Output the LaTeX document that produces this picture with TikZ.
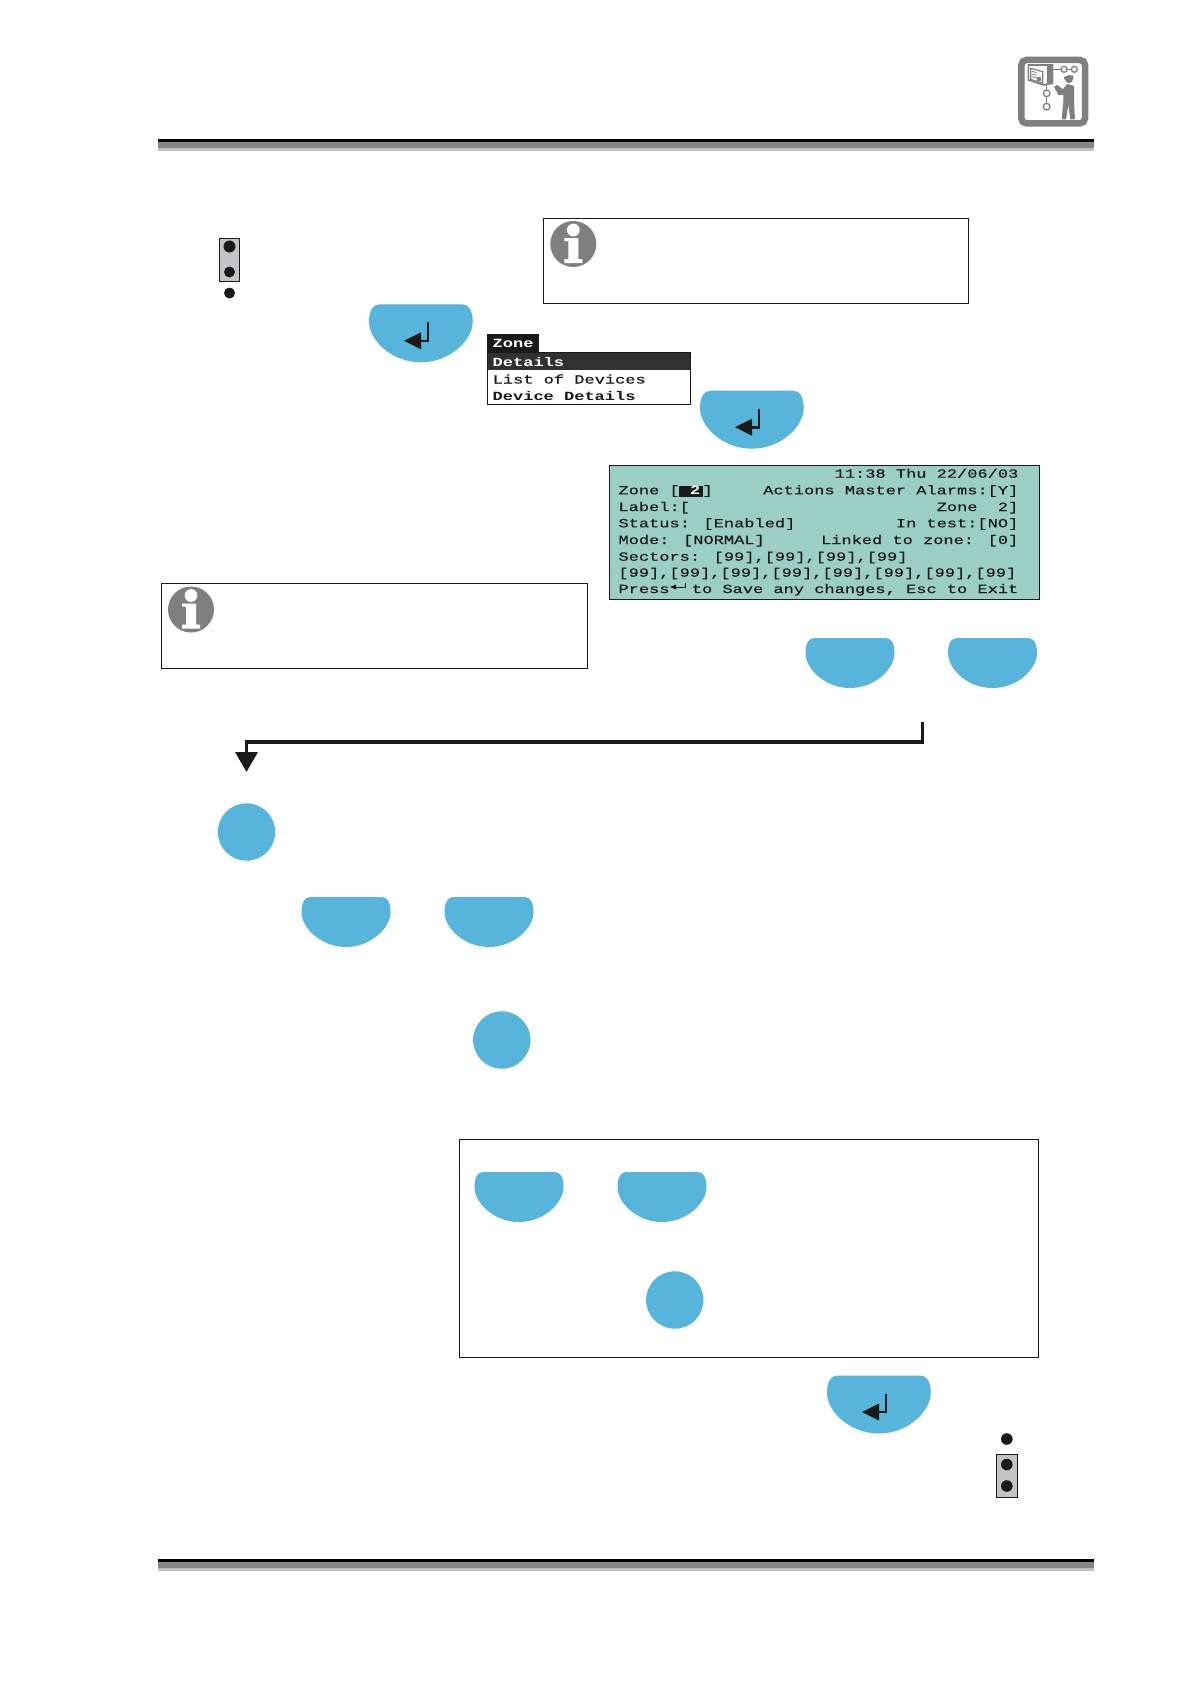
\documentclass[tikz,border=0pt]{standalone}
\usepackage{fontspec}
\usetikzlibrary{arrows.meta}
\newfontfamily\lcdfont[FakeStretch=1.36,FakeBold=0.5]{Liberation Mono}
\newfontfamily\lcdbold[FakeStretch=1.36]{Liberation Mono Bold}
\definecolor{keyblue}{HTML}{57B5DB}
\definecolor{inkblack}{HTML}{1A1A1A}
\definecolor{lcdgreen}{HTML}{9BCFC6}
\definecolor{iconGrey}{HTML}{7F7F7F}
\definecolor{jumpGrey}{HTML}{C2C5C5}
\tikzset{
  x=1pt,y=-1pt,
  keyfill/.style={fill=keyblue},
  framebox/.style={draw=inkblack,line width=0.9pt,fill=white},
  lcdtext/.style={inner sep=0,outer sep=0,text=inkblack,font=\lcdfont\fontsize{12.5}{14}\selectfont},
  lcdleft/.style={lcdtext,anchor=base west},
  lcdright/.style={lcdtext,anchor=base east},
}
\newcommand{\keyshape}[4]{% x y w h
  \fill[keyfill] ({#1+0.1*#3},#2) -- ({#1+0.9*#3},#2)
    .. controls ({#1+0.96*#3},#2) and ({#1+#3},{#2+0.1*#4}) .. ({#1+#3},{#2+0.3*#4})
    .. controls ({#1+#3},{#2+0.62*#4}) and ({#1+0.78*#3},{#2+#4}) .. ({#1+0.5*#3},{#2+#4})
    .. controls ({#1+0.22*#3},{#2+#4}) and (#1,{#2+0.62*#4}) .. (#1,{#2+0.3*#4})
    .. controls (#1,{#2+0.1*#4}) and ({#1+0.04*#3},#2) .. cycle;}
\newcommand{\enterkey}[2]{% x y of top-left, big key
  \keyshape{#1}{#2}{103.7}{58}
  \draw[inkblack,line width=2.6pt] ({#1+59},{#2+18}) -- ({#1+59},{#2+36.5}) -- ({#1+48},{#2+36.5});
  \fill[inkblack] ({#1+35},{#2+36.5}) -- ({#1+52},{#2+28}) -- ({#1+52},{#2+45}) -- cycle;}
\newcommand{\infoicon}[2]{% centre
  \fill[iconGrey] (#1,#2) circle (23);
  \fill[white] (#1,{#2-14}) circle (6.4);
  \fill[white] ({#1-9},{#2-6}) -- ({#1+5},{#2-6}) -- ({#1+5},{#2+15}) -- ({#1+9},{#2+15}) -- ({#1+9},{#2+19})
     -- ({#1-9},{#2+19}) -- ({#1-9},{#2+15}) -- ({#1-5},{#2+15}) -- ({#1-5},{#2-3}) -- ({#1-9},{#2-3}) -- cycle;}
\newcommand{\rulebar}[1]{% top y
  \fill[black] (158,#1) rectangle (1094,{#1+3.4});
  \fill[gray!95] (158,{#1+3.4}) rectangle (1094,{#1+9});
  \fill[gray!50] (158,{#1+9}) rectangle (1094,{#1+12});}
\newcommand{\jumper}[2]{% rectangle top-left
  \draw[inkblack,line width=0.9pt,fill=jumpGrey] (#1,#2) rectangle ({#1+20.5},{#2+43.5});}
\begin{document}
\begin{tikzpicture}
\useasboundingbox[fill=white] (0,0) rectangle (1190,1684);

% header / footer rules
\rulebar{139}
\rulebar{1558.7}

% header icon
\begin{scope}[shift={(980,30)},x=0.3333pt,y=-0.3333pt]
  \draw[iconGrey,line width=6.5pt,rounded corners=5pt,fill=white] (124,90) rectangle (315,280);
  \draw[iconGrey,line width=1.6pt,fill=white] (145,105) -- (218,105) -- (218,160) -- (190,165) -- (145,150) -- cycle;
  \fill[iconGrey] (200,105) rectangle (220,160);
  \draw[iconGrey,line width=1.2pt] (152,115) -- (188,125) -- (188,160) -- (152,148) -- cycle;
  \draw[iconGrey,line width=0.8pt] (156,124) -- (170,128) (156,132) -- (170,136) (156,140) -- (170,144);
  \fill[iconGrey] (172,140) rectangle (184,152);
  \draw[iconGrey,line width=1.6pt] (218,118) -- (292,118);
  \draw[iconGrey,line width=1.3pt,fill=white] (252,118) circle (9) (283,118) circle (9);
  \draw[iconGrey,line width=1.6pt] (200,160) -- (200,232);
  \draw[iconGrey,line width=1.3pt,fill=white] (200,190) circle (10) (200,230) circle (10);
  \fill[iconGrey] (267,147) circle (12);
  \fill[iconGrey] (252,140) -- (280,136) -- (280,146) -- (252,148) -- cycle;
  \fill[iconGrey] (262,162) -- (282,168) -- (282,215) -- (285,268) -- (271,268) -- (265,225)
     -- (258,268) -- (245,268) -- (250,215) -- (250,195) -- (235,195) -- (222,170) -- (232,165) -- (248,178) -- cycle;
\end{scope}

% jumper, top left
\jumper{219.3}{238.3}
\fill[inkblack] (229.5,246.5) circle (6) (229.5,272) circle (5.5) (229.5,293) circle (5.5);

% info box, top
\draw[framebox] (543.5,218.3) rectangle (968.5,303.5);
\infoicon{573.3}{244}

% enter keys
\enterkey{369}{304.3}
\enterkey{700}{390.7}
\enterkey{827}{1375.5}

% menu
\fill[inkblack] (487.3,334) rectangle (539,352);
\fill[white] (487.3,352) rectangle (690.7,404.7);
\fill[inkblack!90!white] (487.3,352) rectangle (690.7,369.5);
\draw[inkblack,line width=1pt] (487.3,352) rectangle (690.7,404.7);
\node[lcdleft,text=white] (menuTitle) at (492.7,347.5) {\lcdbold Zone};
\node[lcdleft,text=white] (menuA) at (492.7,366.5) {\lcdbold Details};
\node[lcdleft] (menuB) at (492.7,383.5) {List of Devices};
\node[lcdleft] (menuC) at (492.7,400) {\lcdbold Device Details};

% LCD
\draw[inkblack,line width=1pt,fill=lcdgreen] (609,465) rectangle (1039.3,599.3);
\fill[inkblack] (679,486) rectangle (703,497);
\node[lcdright] (l1) at (1018.3,477.7) {11:38 Thu 22/06/03};
\node[lcdleft] (l2a) at (618.5,494.3) {Zone [};
\node[lcdleft,text=white] (l2b) at (690,494.3) {\lcdbold 2};
\node[lcdleft] (l2c) at (702.5,494.3) {]};
\node[lcdright] (l2d) at (1018.3,494.3) {Actions Master Alarms:[Y]};
\node[lcdleft] (l3a) at (618.5,511) {Label:[};
\node[lcdright] (l3b) at (1018.3,511) {Zone\ \ 2]};
\node[lcdleft] (l4a) at (618.5,527.3) {Status: [Enabled]};
\node[lcdright] (l4b) at (1018.3,527.3) {In test:[NO]};
\node[lcdleft] (l5a) at (618.5,544) {Mode: [NORMAL]};
\node[lcdright] (l5b) at (1018.3,544) {Linked to zone: [0]};
\node[lcdleft] (l6) at (618.5,560.7) {Sectors: [99],[99],[99],[99]};
\node[lcdleft] (l7) at (618.5,576.7) {[99],[99],[99],[99],[99],[99],[99],[99]};
\node[lcdleft] (l8a) at (618.5,593) {Press};
\node[lcdright] (l8b) at (1018.3,593) {to Save any changes, Esc to Exit};
\draw[inkblack,line width=0.9pt] (685,582.5) -- (685,587) -- (674,587);
\fill[inkblack] (670,587) -- (676,584.5) -- (676,589.5) -- cycle;

% info box, left
\draw[framebox] (161,583) rectangle (587.5,668.5);
\infoicon{191}{609.5}

% small keys
\keyshape{805.5}{638}{89}{50}
\keyshape{948}{638}{89}{50}
\keyshape{301.5}{897}{89}{50}
\keyshape{444.5}{897}{89}{50}

% connector
\coordinate (flowStart) at (922.6,722);
\coordinate (flowEnd) at (246.5,772);
\coordinate (flowMid) at (246.5,742);
\draw[inkblack,line width=3.6pt,-{Triangle[width=22pt,length=20pt]}] (flowStart) |- (flowMid) -- (flowEnd);

% round keys
\fill[keyfill] (246.5,832) circle (28.7);
\fill[keyfill] (501.8,1040) circle (28.7);

% framed group
\draw[framebox] (459.5,1139.5) rectangle (1038.5,1357.5);
\keyshape{474.5}{1172}{89}{50}
\keyshape{617.5}{1172}{89}{50}
\fill[keyfill] (674.8,1300) circle (28.7);

% jumper, bottom right
\jumper{996.7}{1454}
\fill[inkblack] (1006.8,1439) circle (5.8) (1006.8,1464.5) circle (5.8) (1006.8,1486) circle (5.8);
\end{tikzpicture}
\end{document}
